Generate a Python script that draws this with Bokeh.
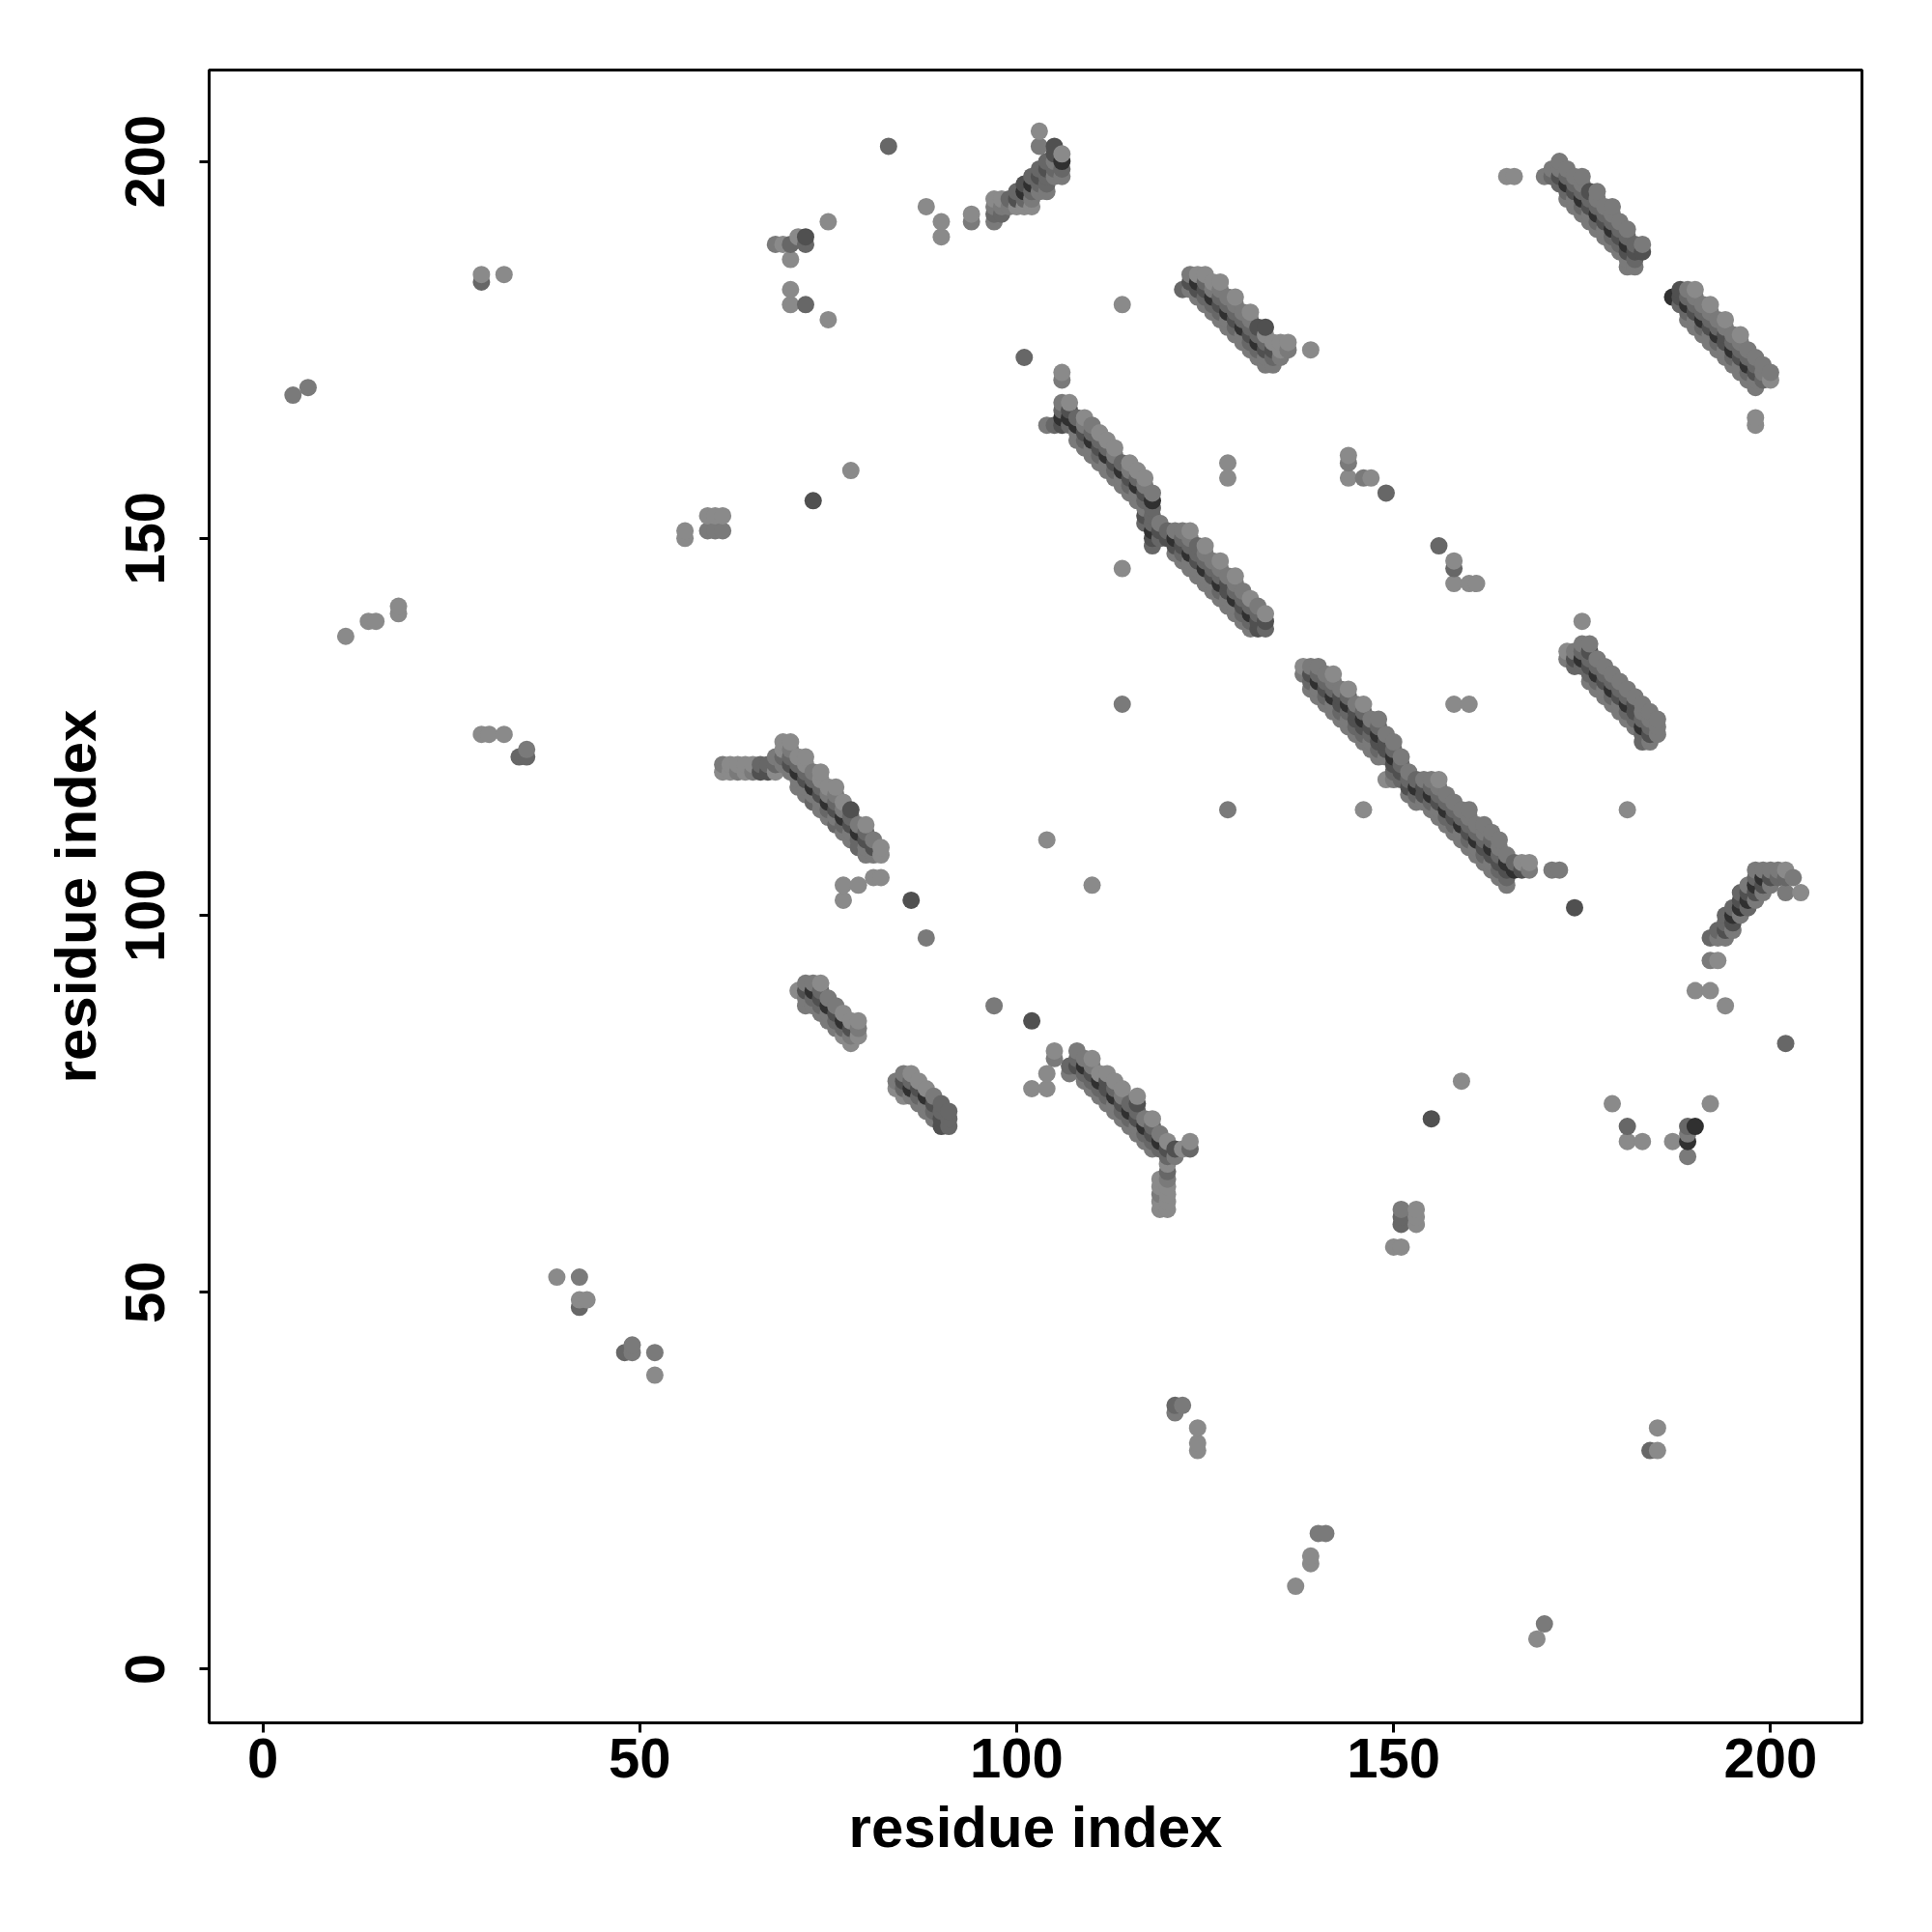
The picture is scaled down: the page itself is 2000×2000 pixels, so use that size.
from bokeh.plotting import figure
from bokeh.models import ColumnDataSource, Range1d, FixedTicker
from bokeh.embed import file_html
from bokeh.resources import INLINE

# contact points: (residue index i, residue index j, shade level 1 = light ... 5 = darkest)
isolated = [
    (4, 169, 2), (6, 170, 2), (11, 137, 1), (14, 139, 1), (15, 139, 1), (18, 140, 1), (18, 141, 1),
    (29, 184, 3), (29, 185, 1), (32, 185, 1), (29, 124, 1), (30, 124, 1), (32, 124, 1),
    (34, 121, 3), (35, 121, 3), (35, 122, 2),
    (56, 150, 1), (56, 151, 1), (59, 151, 2), (60, 151, 2), (61, 151, 2), (59, 153, 1), (60, 153, 1), (61, 153, 1),
    (39, 52, 1), (42, 52, 2), (42, 48, 3), (42, 49, 1), (43, 49, 1),
    (48, 42, 3), (49, 42, 2), (49, 43, 2), (52, 39, 1), (52, 42, 2),
    (121, 34, 2), (121, 35, 3), (122, 35, 2), (124, 29, 1), (124, 30, 1), (124, 32, 1),
    (137, 11, 1), (139, 14, 1), (139, 15, 1), (140, 18, 2), (141, 18, 2), (169, 4, 1), (170, 6, 2),
    (184, 29, 3), (185, 29, 1), (185, 32, 1),
    (83, 202, 3), (68, 189, 2), (69, 189, 1), (70, 189, 3), (71, 190, 1), (72, 189, 3), (72, 190, 4),
    (70, 187, 1), (70, 183, 1), (70, 181, 1), (72, 181, 3), (75, 192, 1), (75, 179, 1),
    (88, 194, 1), (90, 190, 1), (90, 192, 1), (94, 192, 2), (94, 193, 1),
    (114, 181, 1), (101, 174, 3), (106, 171, 2), (106, 172, 1), (128, 158, 1), (128, 160, 1),
    (78, 159, 1), (73, 155, 4), (165, 198, 1), (166, 198, 1), (198, 165, 1), (198, 166, 1),
    (144, 158, 1), (144, 160, 2), (144, 161, 1), (146, 158, 2), (147, 158, 1), (149, 156, 3), (139, 175, 1),
    (114, 146, 1), (114, 128, 2), (128, 114, 2), (104, 110, 1), (110, 104, 1),
    (156, 149, 3), (158, 146, 3), (158, 147, 1), (158, 144, 1), (160, 144, 1), (161, 144, 1),
    (158, 128, 1), (160, 128, 1), (146, 114, 1), (181, 114, 1), (175, 139, 1),
    (171, 106, 2), (172, 106, 2), (174, 101, 4),
    (202, 83, 3), (159, 78, 1), (155, 73, 4), (179, 75, 1), (181, 72, 3), (181, 70, 1), (183, 70, 1),
    (187, 70, 1), (189, 68, 2), (189, 70, 5), (189, 71, 2), (189, 72, 3), (190, 72, 5), (192, 75, 1),
    (151, 59, 3), (151, 60, 3), (151, 61, 2), (153, 59, 1), (153, 60, 1), (153, 61, 1), (150, 56, 1), (151, 56, 1),
    (77, 102, 1), (77, 104, 1), (79, 104, 1), (81, 105, 1), (82, 105, 1), (86, 102, 4), (88, 97, 2),
    (97, 88, 2), (102, 86, 4), (105, 81, 2), (105, 82, 1), (104, 79, 1), (102, 77, 1), (104, 77, 1),
    (123, 69, 3), (123, 70, 1),
]

row_a = [
    (61, 119, 1), (61, 120, 2), (62, 119, 1), (62, 120, 1), (63, 119, 2), (63, 120, 1),
    (64, 119, 1), (64, 120, 1), (65, 119, 2), (65, 120, 1), (66, 119, 4), (66, 120, 3),
]

band_a = [
    (67, 119, 4), (67, 120, 3),
    (68, 119, 1), (68, 120, 3), (68, 121, 2),
    (69, 120, 2), (69, 121, 3), (69, 122, 1), (69, 123, 1),
    (70, 119, 2), (70, 120, 4), (70, 121, 3), (70, 122, 2), (70, 123, 1),
    (71, 117, 2), (71, 118, 2), (71, 119, 5), (71, 120, 3), (71, 121, 1),
    (72, 116, 2), (72, 117, 2), (72, 118, 4), (72, 119, 3), (72, 120, 1), (72, 121, 1),
    (73, 115, 3), (73, 116, 2), (73, 117, 5), (73, 118, 3), (73, 119, 2),
    (74, 114, 2), (74, 115, 2), (74, 116, 4), (74, 117, 3), (74, 118, 1), (74, 119, 1),
    (75, 113, 2), (75, 114, 3), (75, 115, 5), (75, 116, 2), (75, 117, 1),
    (76, 112, 3), (76, 113, 2), (76, 114, 4), (76, 115, 3), (76, 116, 2), (76, 117, 1),
    (77, 111, 2), (77, 112, 3), (77, 113, 5), (77, 114, 2), (77, 115, 1),
    (78, 110, 2), (78, 111, 2), (78, 112, 4), (78, 113, 3), (78, 114, 4),
    (79, 109, 3), (79, 110, 3), (79, 111, 5), (79, 112, 2),
    (80, 108, 2), (80, 109, 2), (80, 110, 4), (80, 111, 3), (80, 112, 1),
    (81, 108, 2), (81, 109, 4), (81, 110, 2),
    (82, 108, 1), (82, 109, 1),
]

band_i = [
    (71, 90, 1), (72, 88, 2), (72, 89, 2), (72, 90, 4), (72, 91, 2), (73, 88, 2), (73, 89, 3), (73, 90, 5), (73, 91, 2),
    (74, 87, 2), (74, 88, 3), (74, 89, 4), (74, 90, 3), (74, 91, 1), (75, 86, 2), (75, 87, 2), (75, 88, 5), (75, 89, 2),
    (76, 85, 2), (76, 86, 3), (76, 87, 4), (76, 88, 2), (77, 84, 1), (77, 85, 3), (77, 86, 5), (77, 87, 1),
    (78, 83, 1), (78, 84, 2), (78, 85, 4), (78, 86, 1), (79, 84, 1), (79, 85, 2), (79, 86, 1),
]

band_j = [
    (84, 77, 1), (84, 78, 2), (85, 76, 1), (85, 77, 3), (85, 78, 4), (85, 79, 2),
    (86, 76, 2), (86, 77, 5), (86, 78, 3), (86, 79, 1),
    (87, 75, 2), (87, 76, 3), (87, 77, 4), (87, 78, 1), (88, 74, 2), (88, 75, 2), (88, 76, 5), (88, 77, 1),
    (89, 73, 2), (89, 74, 3), (89, 75, 4), (89, 76, 2), (90, 72, 4), (90, 73, 4), (90, 74, 3), (90, 75, 3),
    (91, 72, 3), (91, 73, 3), (91, 74, 3),
]

band_k = [
    (107, 79, 2), (107, 80, 3), (108, 80, 4), (108, 81, 3), (108, 82, 2),
    (109, 78, 2), (109, 79, 3), (109, 80, 5), (109, 81, 2), (110, 77, 2), (110, 78, 3), (110, 79, 4), (110, 80, 2), (110, 81, 1),
    (111, 76, 2), (111, 77, 3), (111, 78, 5), (111, 79, 1), (112, 75, 2), (112, 76, 3), (112, 77, 4), (112, 78, 4), (112, 79, 1),
    (113, 74, 2), (113, 75, 2), (113, 76, 5), (113, 77, 3), (113, 78, 1),
    (114, 73, 2), (114, 74, 3), (114, 75, 4), (114, 76, 2), (114, 77, 1),
    (115, 72, 2), (115, 73, 3), (115, 74, 5), (115, 75, 3),
    (116, 71, 2), (116, 72, 2), (116, 73, 4), (116, 74, 3), (116, 75, 4), (116, 76, 1),
    (117, 70, 2), (117, 71, 3), (117, 72, 5), (117, 73, 2),
    (118, 69, 2), (118, 70, 3), (118, 71, 4), (118, 72, 3), (118, 73, 1),
    (119, 69, 3), (119, 70, 5), (119, 71, 2), (120, 67, 1), (120, 68, 3), (120, 69, 4), (120, 70, 1),
    (121, 68, 2), (121, 69, 4), (122, 69, 1),
    (119, 61, 1), (119, 62, 1), (119, 63, 2), (119, 64, 1), (119, 65, 1),
    (120, 61, 1), (120, 62, 1), (120, 63, 1), (120, 64, 1), (120, 65, 2), (120, 66, 3),
]

band_b = [
    (104, 165, 2), (105, 165, 3), (106, 165, 4), (106, 166, 5), (106, 167, 3), (106, 168, 2),
    (107, 165, 3), (107, 166, 5), (107, 167, 4), (107, 168, 1),
    (108, 163, 2), (108, 164, 2), (108, 165, 5), (108, 166, 3),
    (109, 162, 2), (109, 163, 3), (109, 164, 4), (109, 165, 2), (109, 166, 1),
    (110, 161, 2), (110, 162, 2), (110, 163, 5), (110, 164, 3), (110, 165, 2),
    (111, 160, 2), (111, 161, 3), (111, 162, 4), (111, 163, 3), (111, 164, 1),
    (112, 159, 2), (112, 160, 2), (112, 161, 5), (112, 162, 3), (112, 163, 1),
    (113, 158, 2), (113, 159, 3), (113, 160, 4), (113, 161, 2), (113, 162, 1),
    (114, 157, 2), (114, 158, 2), (114, 159, 5), (114, 160, 3),
    (115, 156, 2), (115, 157, 3), (115, 158, 4), (115, 159, 2), (115, 160, 1),
    (116, 155, 2), (116, 156, 2), (116, 157, 5), (116, 158, 3), (116, 159, 1),
    (117, 154, 2), (117, 155, 3), (117, 156, 4), (117, 157, 2), (117, 158, 1),
    (118, 154, 3), (118, 155, 5), (118, 156, 2),
    (117, 152, 3), (117, 153, 4), (118, 149, 3), (118, 150, 4), (118, 151, 5), (118, 152, 3), (118, 153, 3),
    (119, 150, 3), (119, 151, 4), (119, 152, 2),
    (120, 150, 4), (120, 151, 3), (121, 148, 2), (121, 149, 4), (121, 150, 5), (121, 151, 2),
    (122, 147, 2), (122, 148, 3), (122, 149, 4), (122, 150, 3), (122, 151, 2),
    (123, 146, 2), (123, 147, 2), (123, 148, 5), (123, 149, 3), (123, 150, 2), (123, 151, 1),
    (124, 145, 2), (124, 146, 2), (124, 147, 4), (124, 148, 3), (124, 149, 3),
    (125, 144, 2), (125, 145, 2), (125, 146, 5), (125, 147, 3), (125, 148, 2), (125, 149, 1),
    (126, 143, 2), (126, 144, 2), (126, 145, 4), (126, 146, 3), (126, 147, 2),
    (127, 142, 2), (127, 143, 3), (127, 144, 5), (127, 145, 3), (127, 146, 2), (127, 147, 1),
    (128, 141, 2), (128, 142, 2), (128, 143, 4), (128, 144, 4), (128, 145, 2),
    (129, 140, 2), (129, 141, 2), (129, 142, 5), (129, 143, 3), (129, 144, 2), (129, 145, 1),
    (130, 139, 2), (130, 140, 3), (130, 141, 4), (130, 142, 3), (130, 143, 2),
    (131, 138, 2), (131, 139, 3), (131, 140, 5), (131, 141, 3), (131, 142, 1),
    (132, 138, 4), (132, 139, 4), (132, 140, 3), (132, 141, 2),
    (133, 138, 3), (133, 139, 4), (133, 140, 1),
]

band_c = [
    (122, 183, 3), (123, 183, 2), (123, 184, 4), (123, 185, 2),
    (124, 182, 2), (124, 183, 4), (124, 184, 5), (124, 185, 1),
    (125, 181, 2), (125, 182, 3), (125, 183, 4), (125, 184, 3), (125, 185, 1),
    (126, 180, 2), (126, 181, 3), (126, 182, 5), (126, 183, 2), (126, 184, 1),
    (127, 179, 2), (127, 180, 3), (127, 181, 4), (127, 182, 3), (127, 183, 2), (127, 184, 1),
    (128, 178, 2), (128, 179, 2), (128, 180, 5), (128, 181, 3), (128, 182, 2),
    (129, 177, 2), (129, 178, 3), (129, 179, 4), (129, 180, 3), (129, 181, 2), (129, 182, 1),
    (130, 176, 2), (130, 177, 2), (130, 178, 5), (130, 179, 3), (130, 180, 2),
    (131, 175, 2), (131, 176, 3), (131, 177, 4), (131, 178, 3), (131, 179, 2), (131, 180, 1),
    (132, 174, 2), (132, 175, 3), (132, 176, 5), (132, 177, 3), (132, 178, 4),
    (133, 173, 2), (133, 174, 2), (133, 175, 4), (133, 176, 3), (133, 177, 1), (133, 178, 4),
    (134, 173, 2), (134, 174, 3), (134, 175, 4), (134, 176, 1),
    (135, 174, 2), (135, 175, 1), (135, 176, 1), (136, 175, 2), (136, 176, 1),
]

band_d = [
    (170, 198, 2), (171, 198, 3), (171, 199, 2),
    (172, 197, 3), (172, 198, 4), (172, 199, 2), (172, 200, 2),
    (173, 195, 2), (173, 196, 3), (173, 197, 5), (173, 198, 3), (173, 199, 2),
    (174, 194, 2), (174, 195, 2), (174, 196, 4), (174, 197, 3), (174, 198, 2),
    (175, 193, 2), (175, 194, 3), (175, 195, 5), (175, 196, 3), (175, 197, 2), (175, 198, 2),
    (176, 192, 2), (176, 193, 2), (176, 194, 4), (176, 195, 3), (176, 196, 4),
    (177, 191, 2), (177, 192, 3), (177, 193, 5), (177, 194, 3), (177, 195, 2), (177, 196, 2),
    (178, 190, 2), (178, 191, 2), (178, 192, 4), (178, 193, 3), (178, 194, 2),
    (179, 189, 2), (179, 190, 3), (179, 191, 5), (179, 192, 3), (179, 193, 2), (179, 194, 2),
    (180, 188, 2), (180, 189, 3), (180, 190, 4), (180, 191, 3), (180, 192, 2),
    (181, 186, 2), (181, 187, 2), (181, 188, 4), (181, 189, 5), (181, 190, 3), (181, 191, 2),
    (182, 186, 2), (182, 187, 3), (182, 188, 4), (182, 189, 3), (183, 188, 4), (183, 189, 2),
]

band_e = [
    (187, 182, 5), (188, 181, 3), (188, 182, 4), (188, 183, 4),
    (189, 179, 2), (189, 180, 3), (189, 181, 5), (189, 182, 3), (189, 183, 2),
    (190, 178, 2), (190, 179, 2), (190, 180, 4), (190, 181, 3), (190, 182, 2), (190, 183, 1),
    (191, 177, 2), (191, 178, 3), (191, 179, 5), (191, 180, 3), (191, 181, 2),
    (192, 176, 2), (192, 177, 2), (192, 178, 4), (192, 179, 3), (192, 180, 2), (192, 181, 1),
    (193, 175, 2), (193, 176, 3), (193, 177, 5), (193, 178, 3), (193, 179, 2),
    (194, 174, 2), (194, 175, 2), (194, 176, 4), (194, 177, 4), (194, 178, 2), (194, 179, 1),
    (195, 173, 2), (195, 174, 3), (195, 175, 5), (195, 176, 3), (195, 177, 2),
    (196, 172, 2), (196, 173, 2), (196, 174, 4), (196, 175, 3), (196, 176, 2), (196, 177, 1),
    (197, 171, 2), (197, 172, 3), (197, 173, 5), (197, 174, 3), (197, 175, 2),
    (198, 170, 2), (198, 171, 2), (198, 172, 4), (198, 173, 3), (198, 174, 2),
    (199, 171, 3), (199, 172, 2), (199, 173, 2), (200, 171, 1), (200, 172, 2),
]

band_f = [
    (173, 134, 2), (173, 135, 1), (174, 133, 3), (174, 134, 4), (174, 135, 2),
    (175, 133, 3), (175, 134, 5), (175, 135, 3), (175, 136, 2),
    (176, 131, 2), (176, 132, 3), (176, 133, 4), (176, 134, 3), (176, 135, 4), (176, 136, 2),
    (177, 130, 2), (177, 131, 3), (177, 132, 5), (177, 133, 3), (177, 134, 2),
    (178, 129, 2), (178, 130, 2), (178, 131, 4), (178, 132, 3), (178, 133, 2),
    (179, 128, 2), (179, 129, 3), (179, 130, 5), (179, 131, 3), (179, 132, 2),
    (180, 127, 2), (180, 128, 2), (180, 129, 4), (180, 130, 3), (180, 131, 2),
    (181, 126, 2), (181, 127, 3), (181, 128, 5), (181, 129, 3), (181, 130, 2),
    (182, 125, 2), (182, 126, 3), (182, 127, 4), (182, 128, 4), (182, 129, 2),
    (183, 123, 3), (183, 124, 3), (183, 125, 5), (183, 126, 3), (183, 127, 2), (183, 128, 2),
    (184, 123, 2), (184, 124, 4), (184, 125, 3), (184, 126, 2), (184, 127, 2),
    (185, 124, 2), (185, 125, 2), (185, 126, 2),
]

band_g = [
    (138, 132, 2), (138, 133, 1), (139, 130, 2), (139, 131, 3), (139, 132, 4), (139, 133, 2),
    (140, 129, 2), (140, 130, 2), (140, 131, 5), (140, 132, 3), (140, 133, 2),
    (141, 128, 2), (141, 129, 3), (141, 130, 4), (141, 131, 3), (141, 132, 2),
    (142, 127, 2), (142, 128, 2), (142, 129, 5), (142, 130, 3), (142, 131, 2), (142, 132, 1),
    (143, 126, 2), (143, 127, 3), (143, 128, 4), (143, 129, 4), (143, 130, 2),
    (144, 125, 2), (144, 126, 2), (144, 127, 3), (144, 128, 5), (144, 129, 3), (144, 130, 1),
    (145, 124, 2), (145, 125, 3), (145, 126, 4), (145, 127, 4), (145, 128, 2),
    (146, 123, 2), (146, 124, 3), (146, 125, 4), (146, 126, 5), (146, 127, 3), (146, 128, 1),
    (147, 122, 2), (147, 123, 2), (147, 124, 3), (147, 125, 4), (147, 126, 2),
    (148, 121, 2), (148, 122, 3), (148, 123, 4), (148, 124, 5), (148, 125, 3), (148, 126, 2),
    (149, 118, 1), (149, 121, 2), (149, 122, 4), (149, 123, 4), (149, 124, 2),
    (150, 118, 2), (150, 119, 3), (150, 120, 4), (150, 121, 5), (150, 122, 3), (150, 123, 2),
    (151, 118, 3), (151, 119, 4), (151, 120, 3), (151, 121, 2),
    (152, 116, 2), (152, 117, 4), (152, 118, 3), (152, 119, 2),
    (153, 115, 2), (153, 116, 3), (153, 117, 5), (153, 118, 3),
    (154, 115, 2), (154, 116, 4), (154, 117, 4), (154, 118, 2),
    (155, 114, 2), (155, 115, 3), (155, 116, 5), (155, 117, 3), (155, 118, 2),
    (156, 113, 2), (156, 114, 2), (156, 115, 4), (156, 116, 3), (156, 117, 2), (156, 118, 1),
    (157, 112, 2), (157, 113, 3), (157, 114, 5), (157, 115, 3), (157, 116, 2),
    (158, 111, 2), (158, 112, 3), (158, 113, 4), (158, 114, 3), (158, 115, 2),
    (159, 110, 2), (159, 111, 2), (159, 112, 5), (159, 113, 3), (159, 114, 2),
    (160, 109, 2), (160, 110, 3), (160, 111, 4), (160, 112, 3), (160, 113, 2), (160, 114, 2),
    (161, 108, 2), (161, 109, 2), (161, 110, 5), (161, 111, 3), (161, 112, 2),
    (162, 107, 2), (162, 108, 3), (162, 109, 4), (162, 110, 3), (162, 111, 2), (162, 112, 2),
    (163, 106, 2), (163, 107, 2), (163, 108, 4), (163, 109, 5), (163, 110, 3), (163, 111, 2),
    (164, 105, 2), (164, 106, 3), (164, 107, 4), (164, 108, 3), (164, 109, 2), (164, 110, 2),
    (165, 104, 2), (165, 105, 3), (165, 106, 4), (165, 107, 5), (165, 108, 2),
    (166, 106, 5), (166, 107, 3), (167, 106, 4), (167, 107, 1), (168, 106, 2), (168, 107, 1),
]

band_h = [
    (190, 90, 1), (192, 90, 1), (194, 88, 1), (192, 94, 2), (193, 94, 1),
    (192, 97, 3), (193, 97, 2), (193, 98, 3), (194, 97, 2), (194, 98, 4), (194, 99, 3), (194, 100, 3),
    (195, 98, 2), (195, 99, 4), (195, 100, 5), (195, 101, 3),
    (196, 100, 2), (196, 101, 5), (196, 102, 4), (196, 103, 3),
    (197, 101, 3), (197, 102, 5), (197, 103, 4), (197, 104, 2),
    (198, 102, 2), (198, 103, 4), (198, 104, 5), (198, 105, 3), (198, 106, 2),
    (199, 103, 2), (199, 104, 4), (199, 105, 5), (199, 106, 2),
    (200, 104, 2), (200, 105, 4), (200, 106, 2), (201, 105, 3), (201, 106, 2),
    (202, 103, 2), (202, 105, 3), (202, 106, 1), (203, 105, 2), (204, 103, 1),
]

cluster_top = [
    (97, 192, 2), (97, 193, 3), (97, 194, 2), (97, 195, 1), (98, 193, 3), (98, 194, 2), (98, 195, 1),
    (99, 194, 2), (99, 195, 3), (100, 194, 1), (100, 195, 4), (100, 196, 3),
    (101, 194, 1), (101, 195, 3), (101, 196, 5), (101, 197, 4),
    (102, 194, 1), (102, 195, 2), (102, 196, 3), (102, 197, 5), (102, 198, 3),
    (103, 196, 2), (103, 197, 3), (103, 198, 4), (103, 199, 3), (103, 202, 2), (103, 204, 1),
    (104, 196, 2), (104, 197, 3), (104, 198, 3), (104, 199, 4), (104, 200, 3),
    (105, 198, 2), (105, 199, 3), (105, 200, 2), (105, 201, 4), (105, 202, 4),
    (106, 198, 2), (106, 199, 3), (106, 200, 5), (106, 201, 1),
]

shade_colors = {1: "#8a8a8a", 2: "#7a7a7a", 3: "#676767", 4: "#505050", 5: "#303030"}
tick_values = [0, 50, 100, 150, 200]

points = sorted(isolated + row_a + band_a + band_i + band_j + band_k + band_b + band_c
                + band_d + band_e + band_f + band_g + band_h + cluster_top,
                key=lambda t: (t[0], t[1]))
src = ColumnDataSource(dict(
    x=[t[0] for t in points],
    y=[t[1] for t in points],
    color=[shade_colors[t[2]] for t in points],
))

p = figure(frame_width=1711, frame_height=1711,
           x_range=Range1d(-7.12, 212.12), y_range=Range1d(-7.12, 212.12),
           output_backend="svg", toolbar_location=None,
           min_border_left=216, min_border_top=72, min_border_right=50, min_border_bottom=190,
           background_fill_color="white", border_fill_color="white")

p.scatter("x", "y", source=src, size=18, marker="circle", fill_color="color", line_color=None)

p.xgrid.grid_line_color = None
p.ygrid.grid_line_color = None
p.outline_line_color = "black"
p.outline_line_width = 3

for ax in (p.xaxis[0], p.yaxis[0]):
    ax.ticker = FixedTicker(ticks=tick_values)
    ax.axis_line_color = None
    ax.minor_tick_line_color = None
    ax.major_tick_in = 0
    ax.major_tick_out = 10
    ax.major_tick_line_width = 3
    ax.major_tick_line_color = "black"
    ax.major_label_text_font = "Liberation Sans"
    ax.major_label_text_font_style = "bold"
    ax.major_label_text_font_size = "58px"
    ax.major_label_text_color = "black"
    ax.axis_label = "residue index"
    ax.axis_label_text_font = "Liberation Sans"
    ax.axis_label_text_font_style = "bold"
    ax.axis_label_text_font_size = "60px"
    ax.axis_label_text_color = "black"

p.xaxis[0].major_label_standoff = 6
p.xaxis[0].axis_label_standoff = 15
p.yaxis[0].major_label_orientation = "vertical"
p.yaxis[0].major_label_standoff = 36
p.yaxis[0].axis_label_standoff = 16

open("out.html", "w").write(file_html(p, INLINE))
